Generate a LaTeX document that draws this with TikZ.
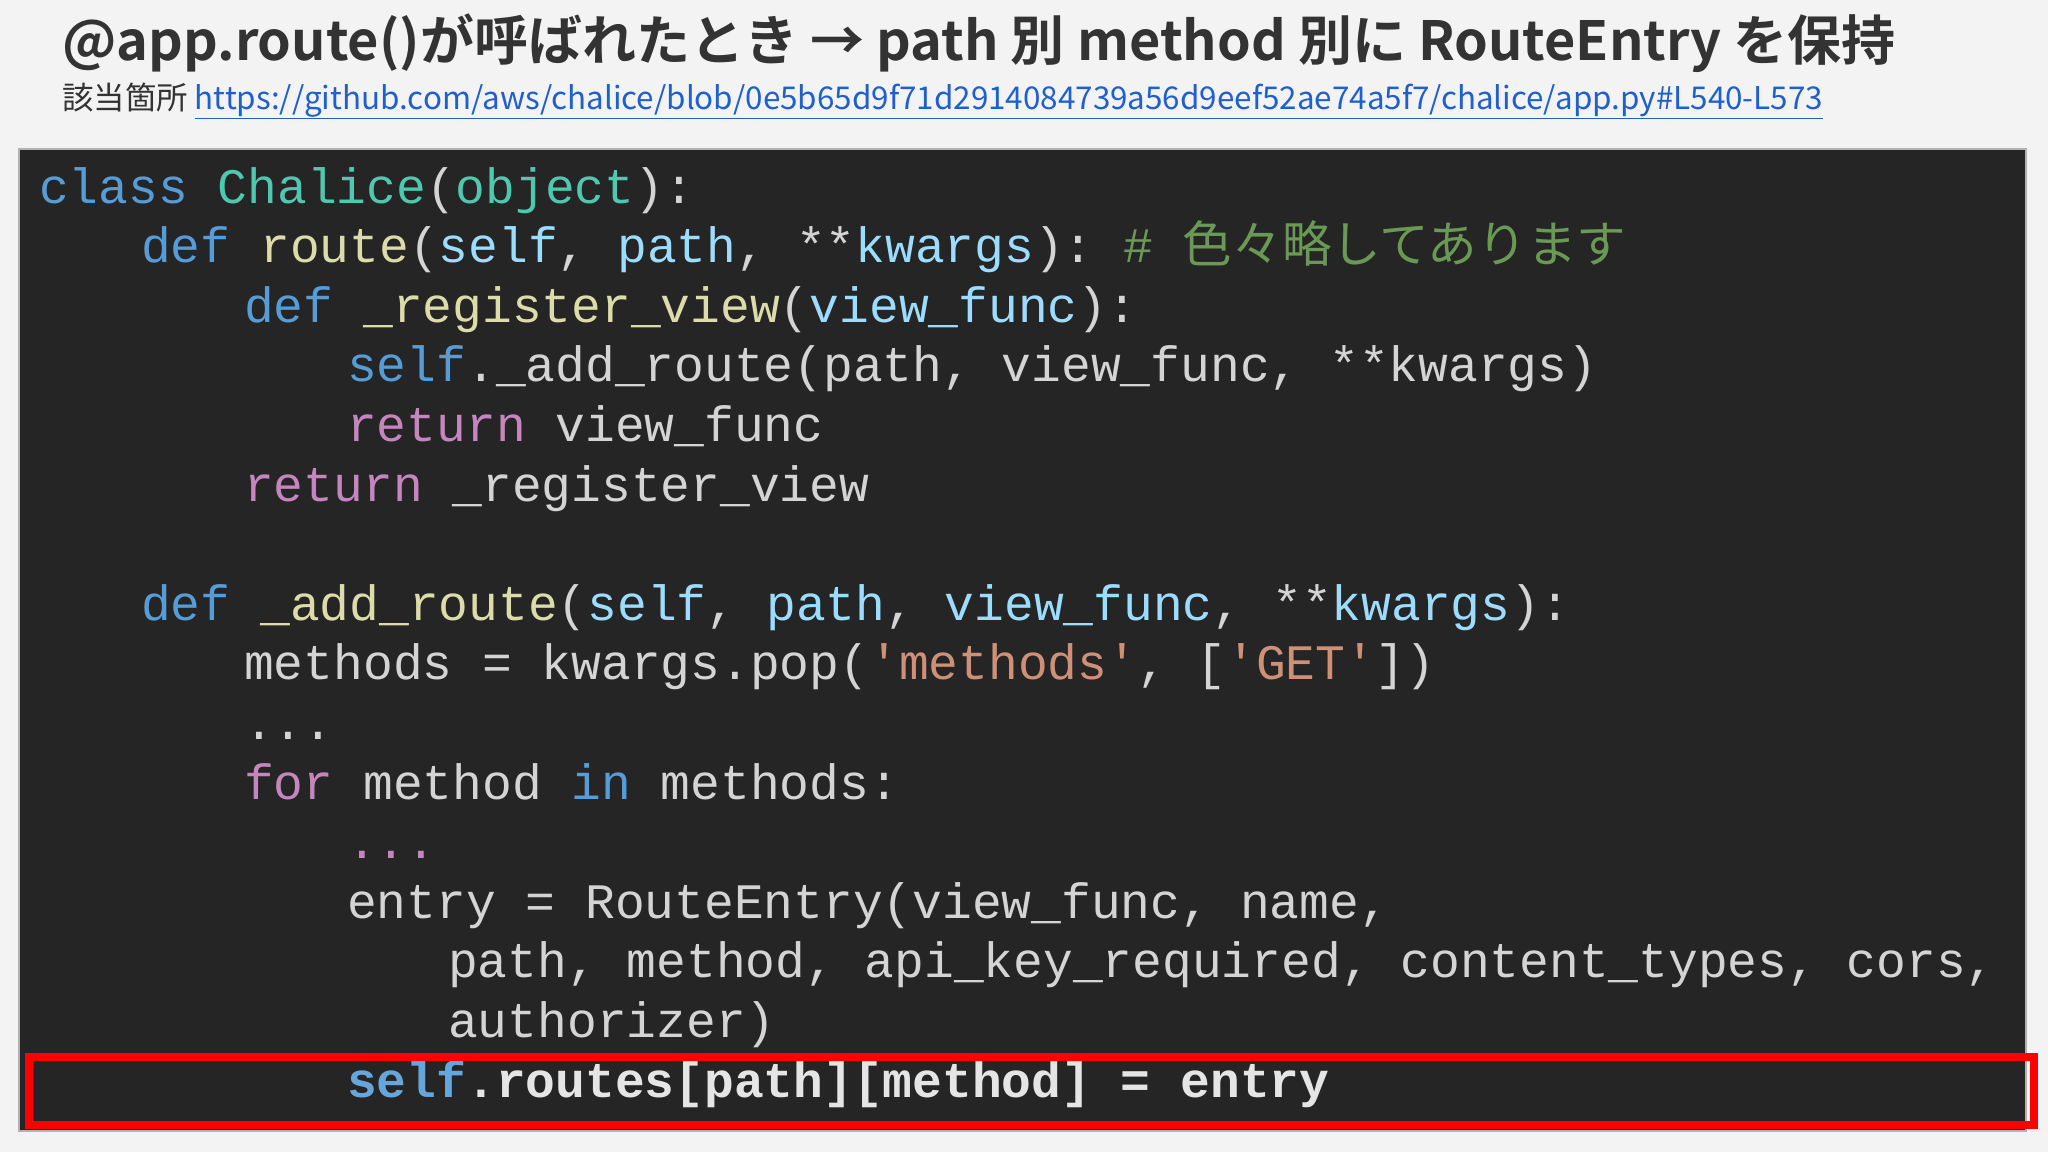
\documentclass[tikz,border=0pt]{standalone}
\usepackage{fontspec}
\setmainfont{Noto Sans CJK JP}
\setmonofont{Liberation Mono}
\newfontfamily\cjk{Noto Sans CJK JP}
\newfontfamily\cjkb{Noto Sans CJK JP Bold}
\definecolor{pagebg}{HTML}{F3F3F3}
\definecolor{codebg}{HTML}{252526}
\definecolor{kw}{HTML}{569CD6}
\definecolor{cls}{HTML}{4EC9B0}
\definecolor{fn}{HTML}{DCDCAA}
\definecolor{par}{HTML}{9CDCFE}
\definecolor{ctl}{HTML}{C586C0}
\definecolor{str}{HTML}{CE9178}
\definecolor{cmt}{HTML}{6A9955}
\definecolor{txt}{HTML}{D4D4D4}
\definecolor{ttl}{HTML}{333333}
\definecolor{lnk}{HTML}{1F5FD0}
\newcommand{\cKw}[1]{\textcolor{kw}{#1}}
\newcommand{\cCl}[1]{\textcolor{cls}{#1}}
\newcommand{\cFn}[1]{\textcolor{fn}{#1}}
\newcommand{\cPa}[1]{\textcolor{par}{#1}}
\newcommand{\cCt}[1]{\textcolor{ctl}{#1}}
\newcommand{\cSt}[1]{\textcolor{str}{#1}}
\newcommand{\lineY}[1]{\fpeval{203+(#1)*59.6}}
\begin{document}
\begin{tikzpicture}[x=1pt,y=-1pt,
  code/.style={anchor=base west,inner sep=0pt,text=txt,font=\ttfamily\fontsize{49.6}{49.6}\selectfont}]
\useasboundingbox[fill=pagebg] (0,0) rectangle (2048,1152);
\node[anchor=base west,inner sep=0pt,text=ttl,font=\cjkb\fontsize{54}{54}\selectfont] (title) at (62,60)
  {@app.route()が呼ばれたとき → path 別 method 別に RouteEntry を保持};
\node[anchor=base west,inner sep=0pt,text=ttl,font=\cjk\fontsize{31.4}{31.4}\selectfont] (sub) at (62,109)
  {該当箇所 \textcolor{lnk}{\underline{https://github.com/aws/chalice/blob/0e5b65d9f71d2914084739a56d9eef52ae74a5f7/chalice/app.py\#L540-L573}}};
\node[draw=gray!60,line width=1.5pt,fill=codebg,minimum width=2007pt,minimum height=982pt,anchor=north west,inner sep=0pt] (box) at (18,148) {};
\node[code] (l1) at (39,{\lineY{0}}) {\cKw{class} \cCl{Chalice}(\cCl{object}):};
\node[code] (l2) at (141,{\lineY{1}}) {\cKw{def} \cFn{route}(\cPa{self}, \cPa{path}, **\cPa{kwargs}): \textcolor{cmt}{\# {\cjk 色々略してあります}}};
\node[code] (l3) at (244,{\lineY{2}}) {\cKw{def} \cFn{\_register\_view}(\cPa{view\_func}):};
\node[code] (l4) at (347,{\lineY{3}}) {\cKw{self}.\_add\_route(path, view\_func, **kwargs)};
\node[code] (l5) at (347,{\lineY{4}}) {\cCt{return} view\_func};
\node[code] (l6) at (244,{\lineY{5}}) {\cCt{return} \_register\_view};
\node[code] (l7) at (141,{\lineY{7}}) {\cKw{def} \cFn{\_add\_route}(\cPa{self}, \cPa{path}, \cPa{view\_func}, **\cPa{kwargs}):};
\node[code] (l8) at (244,{\lineY{8}}) {methods = kwargs.pop(\cSt{'methods'}, [\cSt{'GET'}])};
\node[code] (l9) at (244,{\lineY{9}}) {...};
\node[code] (l10) at (244,{\lineY{10}}) {\cCt{for} method \cKw{in} methods:};
\node[code] (l11) at (347,{\lineY{11}}) {\cCt{...}};
\node[code] (l12) at (347,{\lineY{12}}) {entry = RouteEntry(view\_func, name,};
\node[code] (l13) at (448,{\lineY{13}}) {path, method, api\_key\_required, content\_types, cors,};
\node[code] (l14) at (448,{\lineY{14}}) {authorizer)};
\node[code,font=\ttfamily\bfseries\fontsize{49.6}{49.6}\selectfont,text=white!90!black] (l15) at (347,{\lineY{15}}) {\textcolor{kw!90!white}{self}.routes[path][method] = entry};
\node[draw=red,line width=8pt,minimum width=2005pt,minimum height=68pt,anchor=north west,inner sep=0pt] (hl) at (25,1053) {};
\end{tikzpicture}
\end{document}
